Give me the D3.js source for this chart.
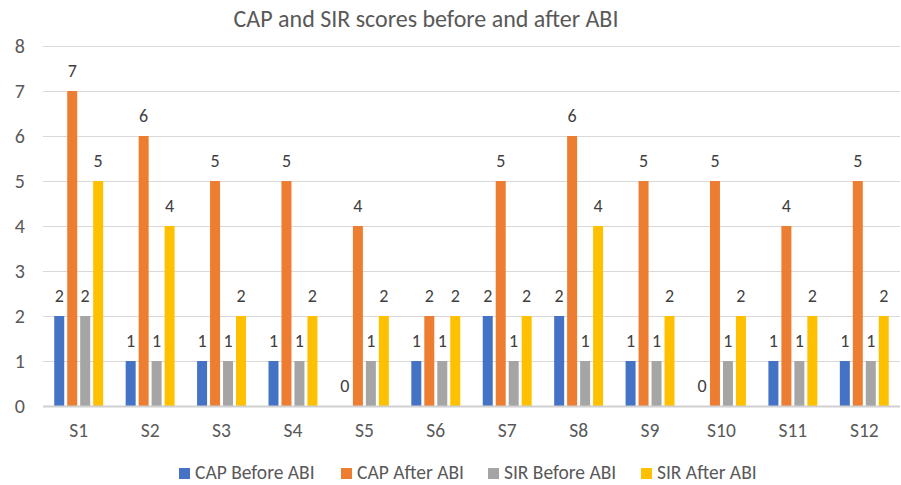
<!DOCTYPE html>
<html><head><meta charset="utf-8">
<script src="https://cdn.jsdelivr.net/npm/d3@7"></script>
<style>
body{margin:0;background:#fff;}
text{font-family:Carlito,Calibri,Lato,"Open Sans",sans-serif;}
</style></head>
<body><svg id="c" width="901" height="485"></svg>
<script>
const categories = ["S1","S2","S3","S4","S5","S6","S7","S8","S9","S10","S11","S12"];
const seriesNames = ["CAP Before ABI","CAP After ABI","SIR Before ABI","SIR After ABI"];
const capBefore = [2,1,1,1,0,1,2,2,1,0,1,1];
const capAfter  = [7,6,5,5,4,2,5,6,5,5,4,5];
const sirBefore = [2,1,1,1,1,1,1,1,1,1,1,1];
const sirAfter  = [5,4,2,2,2,2,2,4,2,2,2,2];
const yTicks = [0,1,2,3,4,5,6,7,8];
const colors = ["#4472C4","#ED7D31","#A5A5A5","#FFC000"];
const values = [capBefore, capAfter, sirBefore, sirAfter];

(function(){
const svg = d3.select("#c");
const mLeft = 43, mRight = 900, mTop = 46, mBottom = 406;
const x0 = d3.scaleBand().domain(categories).range([mLeft, mRight]).paddingInner(0.315).paddingOuter(0.1575);
const x1 = d3.scaleBand().domain(seriesNames).range([0, x0.bandwidth()]).paddingInner(0.23).paddingOuter(0);
const y = d3.scaleLinear().domain([0,8]).range([mBottom, mTop]);

svg.append("g").selectAll("line").data(yTicks.filter(d=>d>0)).join("line")
  .attr("x1", mLeft).attr("x2", mRight).attr("y1", d=>y(d)+0.5).attr("y2", d=>y(d)+0.5)
  .attr("stroke", "#d9d9d9").attr("stroke-width", 1);

svg.append("g").selectAll("text").data(yTicks).join("text")
  .attr("x", 25).attr("y", d=>y(d)+7).attr("text-anchor","end")
  .attr("font-size", 20).attr("fill", "#595959").text(d=>d);

const groups = svg.append("g").selectAll("g").data(categories).join("g")
  .attr("transform", d=>`translate(${x0(d)},0)`);
seriesNames.forEach((s, si) => {
  groups.append("rect")
    .attr("x", x1(s)).attr("width", x1.bandwidth())
    .attr("y", (d,i)=>y(values[si][i])).attr("height", (d,i)=>mBottom - y(values[si][i]))
    .attr("fill", colors[si]);
  groups.append("text")
    .attr("x", x1(s) + x1.bandwidth()/2).attr("y", (d,i)=>y(values[si][i]) - 14)
    .attr("text-anchor","middle").attr("font-size", 18).attr("fill", "#404040")
    .text((d,i)=>values[si][i]);
});

svg.append("line").attr("x1", mLeft).attr("x2", mRight).attr("y1", mBottom+0.5).attr("y2", mBottom+0.5)
  .attr("stroke", "#d0d0d0").attr("stroke-width", 2);

svg.append("g").selectAll("text").data(categories).join("text")
  .attr("x", d=>x0(d)+x0.bandwidth()/2).attr("y", 437).attr("text-anchor","middle")
  .attr("font-size", 19.5).attr("fill", "#595959").text(d=>d);

svg.append("text").attr("x", 426).attr("y", 27).attr("text-anchor","middle")
  .attr("font-size", 24).attr("fill", "#595959").text("CAP and SIR scores before and after ABI");

const legX = [179, 341, 488, 641];
const leg = svg.append("g").selectAll("g").data(seriesNames).join("g")
  .attr("transform", (d,i)=>`translate(${legX[i]},468)`);
leg.append("rect").attr("width", 11).attr("height", 11).attr("fill", (d,i)=>colors[i]);
leg.append("text").attr("x", 16).attr("y", 11).attr("font-size", 19.5).attr("fill", "#595959").text(d=>d);
})();
</script></body></html>
